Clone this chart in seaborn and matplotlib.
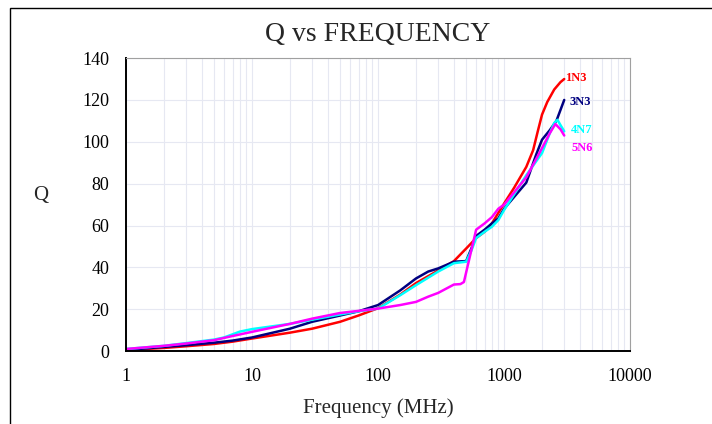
import matplotlib
matplotlib.use("Agg")
import matplotlib.pyplot as plt
from matplotlib.patches import Rectangle
from matplotlib.ticker import LogLocator, NullFormatter, FixedLocator
import numpy as np
import pandas as pd
import seaborn as sns

# ── data (Q vs frequency, MHz) ────────────────────────────────────────
FREQ_1N3 = [1, 2, 3, 5, 7, 10, 20, 30, 50, 70, 100, 150, 200, 300, 400, 500, 600, 700,
            800, 1000, 1200, 1500, 1700, 1850, 2000, 2200, 2500, 2800, 3000]
Q_1N3    = [0.5, 1.5, 2.3, 3.4, 4.5, 6.0, 8.8, 10.7, 14.0, 17.0, 20.5, 27.0, 32.5, 38.5,
            43.0, 49.0, 54.0, 57.0, 61.0, 70.5, 78.0, 88.0, 96.0, 105.0, 113.0, 119.0,
            125.0, 128.5, 130.0]

FREQ_3N3 = [1, 2, 3, 5, 7, 10, 20, 30, 50, 70, 100, 150, 200, 250, 300, 400, 500, 550,
            600, 700, 800, 900, 1000, 1500, 1800, 2000, 2300, 2600, 3000]
Q_3N3    = [0.5, 2.0, 2.8, 4.0, 5.0, 6.5, 10.7, 14.0, 17.0, 19.0, 22.0, 29.0, 34.7, 38.0,
            39.5, 42.7, 43.0, 49.0, 55.0, 58.0, 61.0, 63.4, 68.0, 80.5, 94.0, 101.0,
            105.5, 110.0, 120.0]

FREQ_4N7 = [1, 2, 3, 5, 6, 7, 8, 10, 20, 30, 50, 70, 100, 150, 200, 300, 400, 500, 550,
            600, 700, 800, 900, 1000, 1500, 2000, 2300, 2500, 2650, 2800, 3000]
Q_4N7    = [1.0, 2.5, 3.8, 5.5, 6.5, 8.0, 9.3, 10.5, 13.0, 15.0, 17.5, 19.0, 20.3, 26.7,
            31.5, 38.0, 42.0, 42.7, 48.0, 54.0, 57.0, 59.4, 62.6, 67.4, 84.0, 94.6, 104.0,
            109.0, 110.5, 108.0, 105.0]

FREQ_5N6 = [1, 2, 3, 5, 7, 10, 20, 30, 50, 70, 100, 150, 200, 250, 300, 400, 450, 480,
            520, 600, 700, 800, 900, 1000, 1500, 2000, 2300, 2550, 2800, 3000]
Q_5N6    = [1.0, 2.5, 3.6, 5.2, 7.2, 9.2, 13.0, 15.5, 18.2, 19.2, 20.3, 22.0, 23.5, 26.0,
            27.8, 31.8, 32.0, 33.0, 42.0, 58.0, 61.0, 64.0, 68.0, 70.0, 83.0, 97.0, 104.0,
            108.5, 106.0, 103.0]

SERIES = ["1N3", "3N3", "4N7", "5N6"]
COLORS = {"1N3": "#ff0000", "3N3": "#000080", "4N7": "#00ffff", "5N6": "#ff00ff"}

Y_TICKS = [0, 20, 40, 60, 80, 100, 120, 140]
X_TICKS = [1, 10, 100, 1000, 10000]

SERIF = ["Liberation Serif", "DejaVu Serif"]

# ─────────────────────────────────────────────
df = pd.concat([
    pd.DataFrame({"freq": f, "Q": q, "part": name})
    for name, f, q in [("1N3", FREQ_1N3, Q_1N3), ("3N3", FREQ_3N3, Q_3N3),
                       ("4N7", FREQ_4N7, Q_4N7), ("5N6", FREQ_5N6, Q_5N6)]
], ignore_index=True)

sns.set_style("white")
plt.rcParams["font.family"] = SERIF

fig = plt.figure(figsize=(7.12, 4.24), dpi=100)
ax = fig.add_axes([0.177, 0.172, 0.708, 0.691])

# draw order: red, navy, cyan, magenta on top
for name in SERIES:
    sns.lineplot(data=df[df.part == name], x="freq", y="Q", color=COLORS[name],
                 lw=1.8, ax=ax, legend=False, sort=False, estimator=None)

ax.set_xscale("log")
ax.set_xlim(1, 10000)
ax.set_ylim(0, 140)
ax.yaxis.set_major_locator(FixedLocator(Y_TICKS))
ax.xaxis.set_major_locator(FixedLocator(X_TICKS))
ax.set_xticklabels([str(t) for t in X_TICKS])
ax.xaxis.set_minor_locator(LogLocator(base=10, subs=np.arange(2, 10)))
ax.xaxis.set_minor_formatter(NullFormatter())

ax.grid(which="major", axis="y", color="#e6e8f2", lw=0.8)
ax.grid(which="both", axis="x", color="#e6e8f2", lw=0.8)
ax.set_axisbelow(True)

ax.tick_params(axis="both", which="major", direction="out", length=6, width=1.2,
               colors="black", labelsize=13, pad=6)
ax.tick_params(axis="x", which="minor", direction="out", length=5, width=1.0,
               colors="black")
ax.tick_params(axis="y", which="minor", left=False)

for sp in ["top", "right"]:
    ax.spines[sp].set_color("#a0a0a0")
    ax.spines[sp].set_linewidth(0.8)
for sp in ["left", "bottom"]:
    ax.spines[sp].set_color("black")
    ax.spines[sp].set_linewidth(1.4)

ax.set_xlabel("Frequency (MHz)", fontsize=15, labelpad=10)
ax.set_ylabel("Q", fontsize=15, rotation=0)
ax.yaxis.set_label_coords(-0.17, 0.50)
ax.set_title("Q vs FREQUENCY", fontsize=20, pad=12)

# series labels at right end of curves
label_pos = {"1N3": (3050, 130.6), "3N3": (3320, 118.8), "4N7": (3400, 105.5), "5N6": (3400, 97.0)}
for name in SERIES:
    x, y = label_pos[name]
    ax.text(x, y, name, color=COLORS[name], fontsize=9, fontweight="bold",
            ha="left", va="center")

# outer frame
fig.patches.append(Rectangle((0.014, -0.01), 1.0, 0.99, transform=fig.transFigure,
                             fill=False, edgecolor="black", lw=1.0))

fig.savefig("out.png", dpi=100)
